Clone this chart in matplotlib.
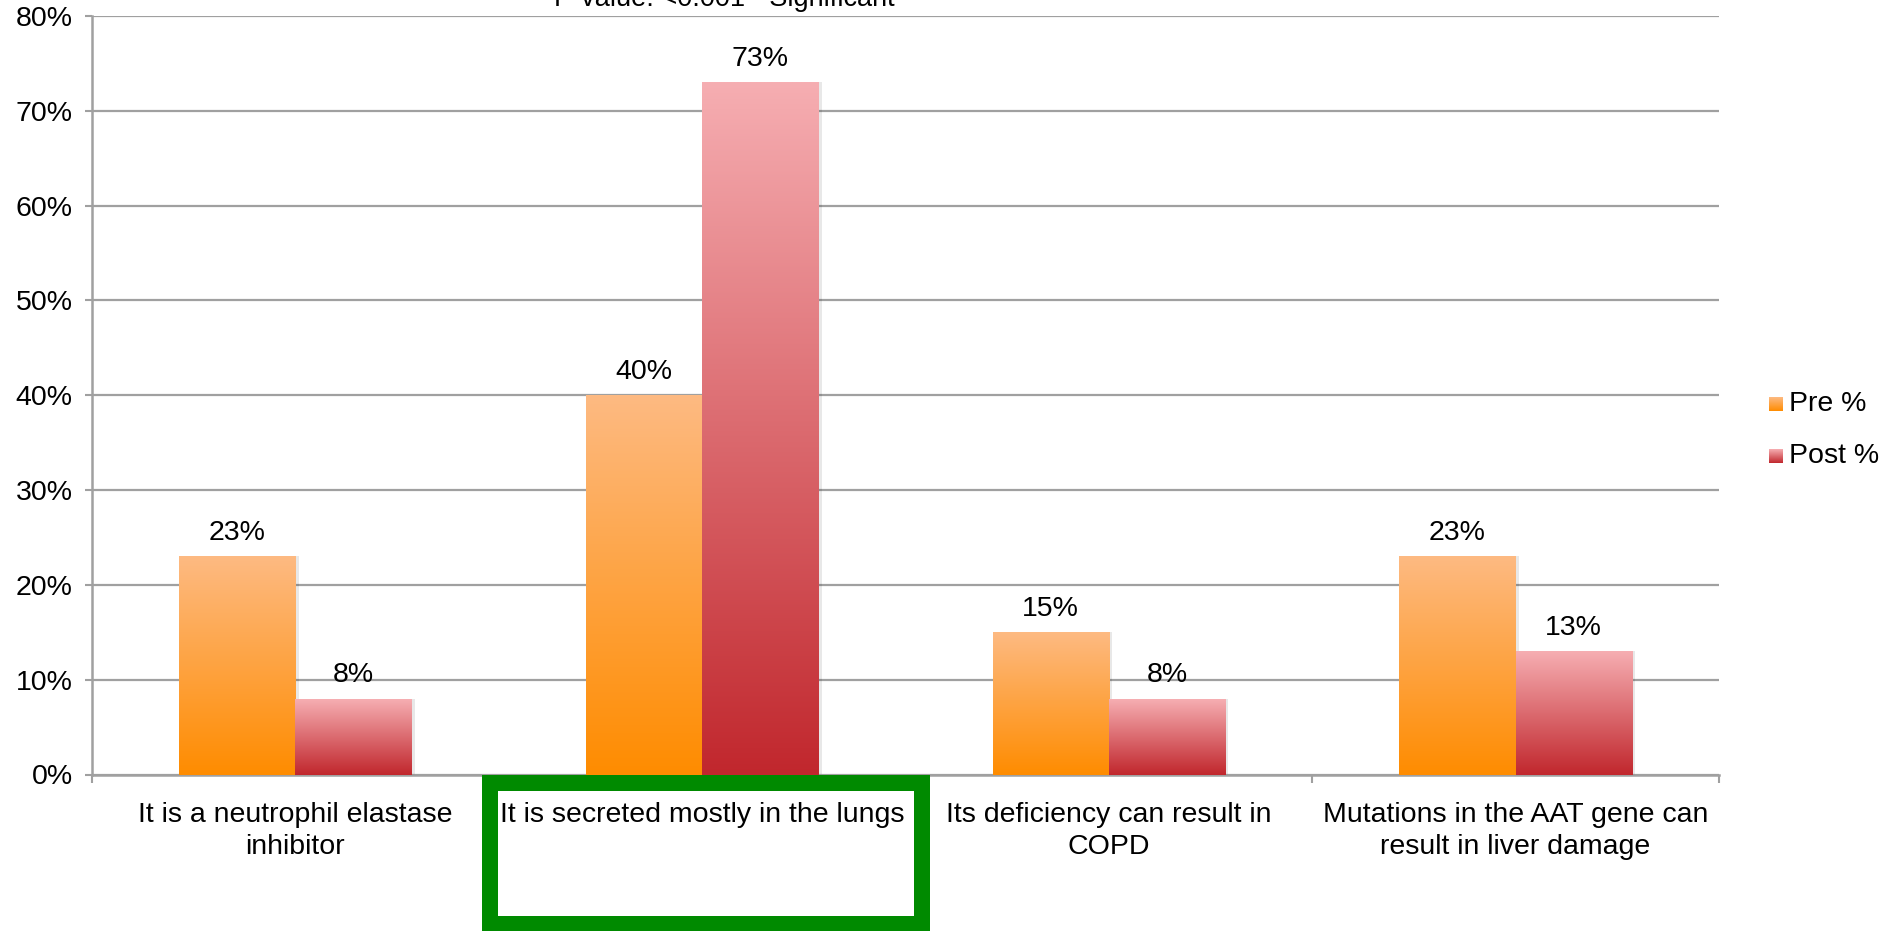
import numpy as np
import matplotlib
matplotlib.use("Agg")
import matplotlib.pyplot as plt
from matplotlib.patches import Rectangle
from matplotlib.colors import LinearSegmentedColormap

plt.rcParams['font.family'] = ['Liberation Sans', 'DejaVu Sans']

categories = ["It is a neutrophil elastase\ninhibitor",
              "It is secreted mostly in the lungs",
              "Its deficiency can result in\nCOPD",
              "Mutations in the AAT gene can\nresult in liver damage"]
series_names = ["Pre %", "Post %"]
pre_values = [23, 40, 15, 23]
post_values = [8, 73, 8, 13]
y_ticks = [0, 10, 20, 30, 40, 50, 60, 70, 80]
y_tick_labels = ["0%", "10%", "20%", "30%", "40%", "50%", "60%", "70%", "80%"]
title_text = "P-value: <0.001 - Significant"

W, H = 1887, 931
DPI = 100
FS = 20.5
fig = plt.figure(figsize=(W / DPI, H / DPI), dpi=DPI)
ax = fig.add_axes([92 / W, 1 - 774.5 / H, (1719 - 92) / W, (774.5 - 16) / H])

cmaps = [LinearSegmentedColormap.from_list("pre", ["#FF8C00", "#FDBA82"]),
         LinearSegmentedColormap.from_list("post", ["#C1272D", "#F6AEB2"])]
grad = np.linspace(0, 1, 256).reshape(-1, 1)

x = np.arange(len(categories))
bw = 0.286
grid_c = "#A0A0A0"

for i, vals in enumerate([pre_values, post_values]):
    offs = (i - 0.5) * bw
    bars = ax.bar(x + offs, vals, bw, color="none", edgecolor="none", zorder=3)
    for b, v in zip(bars, vals):
        bx, by = b.get_x(), b.get_y()
        bwid, bh = b.get_width(), b.get_height()
        sh = Rectangle((bx + 0.008, by), bwid, bh, facecolor="#000000", alpha=0.09,
                       edgecolor="none", zorder=2.5)
        ax.add_patch(sh)
        im = ax.imshow(grad, cmap=cmaps[i], aspect="auto", origin="lower",
                       extent=[bx, bx + bwid, by, by + bh], zorder=3)
        im.set_clip_path(b)
        ax.annotate(f"{v}%", (bx + bwid / 2, by + bh), xytext=(0, 7.5),
                    textcoords="offset points", ha="center", va="bottom",
                    fontsize=FS, color="black", zorder=5)

ax.set_xlim(-0.5, len(categories) - 0.5)
ax.set_ylim(0, 80)
ax.set_yticks(y_ticks)
ax.set_yticklabels(y_tick_labels, fontsize=FS)
ax.yaxis.grid(True, color=grid_c, linewidth=1.6, zorder=0)
ax.set_axisbelow(True)
ax.tick_params(axis="y", length=5, width=1.5, color=grid_c, pad=9)

ax.set_xticks(x)
ax.set_xticklabels(categories, fontsize=FS, linespacing=1.33)
ax.tick_params(axis="x", which="major", length=0, pad=19.5)
ax.set_xticks(np.arange(len(categories) + 1) - 0.5, minor=True)
ax.tick_params(axis="x", which="minor", length=6, width=1.5, color=grid_c, direction="out")

for s in ["top", "right"]:
    ax.spines[s].set_visible(False)
for s in ["left", "bottom"]:
    ax.spines[s].set_color(grid_c)
    ax.spines[s].set_linewidth(1.8)

# Legend with gradient squares
leg_items = [(series_names[0], cmaps[0], 397), (series_names[1], cmaps[1], 449)]
for name, cm, ytop in leg_items:
    lax = fig.add_axes([1769 / W, 1 - (ytop + 14) / H, 14 / W, 14 / H])
    lax.imshow(grad, cmap=cm, aspect="auto", origin="lower")
    lax.axis("off")
    fig.text(1789 / W, 1 - (ytop + 7) / H, name, fontsize=FS, va="center", ha="left")

# Title, cut off at the top edge as in the original
fig.text(724 / W, 1 - 6 / H, title_text, fontsize=19.5, ha="center", va="baseline")

# Green highlight box
lw_px = 16
rect = Rectangle((490 / W, 1 - 924 / H), (922 - 490) / W, (924 - 783) / H,
                 transform=fig.transFigure, fill=False, edgecolor="#008A00",
                 linewidth=lw_px * 72 / DPI, zorder=10)
fig.add_artist(rect)

fig.savefig("out.png", dpi=DPI)
